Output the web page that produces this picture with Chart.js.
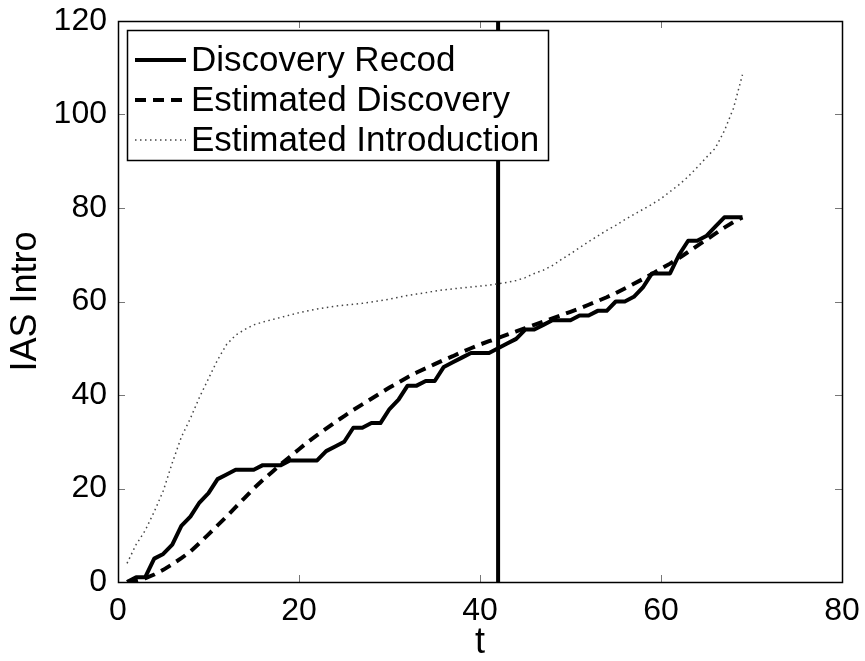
<!DOCTYPE html>
<html>
<head>
<meta charset="utf-8">
<script src="https://cdn.jsdelivr.net/npm/chart.js@4.4.0/dist/chart.umd.min.js"></script>
<style>
html,body{margin:0;padding:0;background:#fff;}
#c{display:block;}
</style>
</head>
<body>
<canvas id="c" width="865" height="661"></canvas>
<script>
// ---- data ----
const tValues = [1,2,3,4,5,6,7,8,9,10,11,12,13,14,15,16,17,18,19,20,21,22,23,24,25,26,27,28,29,30,31,32,33,34,35,36,37,38,39,40,41,42,43,44,45,46,47,48,49,50,51,52,53,54,55,56,57,58,59,60,61,62,63,64,65,66,67,68,69];

const discoveryRecord = [0,1,1,5,6,8,12,14,17,19,22,23,24,24,24,25,25,25,26,26,26,26,28,29,30,33,33,34,34,37,39,42,42,43,43,46,47,48,49,49,49,50,51,52,54,54,55,56,56,56,57,57,58,58,60,60,61,63,66,66,66,70,73,73,74,76,78,78,78];

const estimatedDiscovery = [0,0.3,0.8,1.6,2.6,3.8,5.1,6.5,8.3,10.2,12.1,14,16,18,20,21.8,23.5,25.2,26.8,28.4,30,31.4,32.8,34.2,35.5,36.8,38,39.2,40.4,41.6,42.7,43.8,44.8,45.7,46.6,47.5,48.3,49.2,50,50.8,51.5,52.2,52.9,53.6,54.3,55,55.7,56.4,57.1,57.8,58.5,59.3,60.1,60.9,61.8,62.8,63.8,64.8,65.9,67,68.1,69.3,70.6,71.9,73.2,74.5,75.8,77,78];

const estimatedIntroduction = [4,8,11,15,19.5,25.5,31,35,39.5,43.5,47.5,50.8,52.8,54,55,55.6,56.1,56.6,57.1,57.6,58,58.4,58.7,59,59.2,59.4,59.6,59.9,60.2,60.5,60.9,61.3,61.6,61.9,62.2,62.5,62.7,62.9,63.1,63.3,63.5,63.8,64.1,64.5,65.1,66,66.7,67.7,69,70.2,71.5,72.8,74,75.2,76.3,77.5,78.6,79.7,80.8,82,83.5,85,86.7,88.7,90.8,92.8,96.5,101.3,108.5];

const markerT = [42, 42];
const markerY = [0, 120];

const seriesLabels = ['Discovery Recod', 'Estimated Discovery', 'Estimated Introduction'];
const xTicks = [0, 20, 40, 60, 80];
const yTicks = [0, 20, 40, 60, 80, 100, 120];

const toPts = (xs, ys) => xs.map((x, i) => ({x: x, y: ys[i]}));

const FONT = "'Liberation Sans', Arial, Helvetica, sans-serif";

const framePlugin = {
  id: 'frame',
  afterDatasetsDraw(chart) {
    const {ctx, chartArea: a, scales: {x, y}} = chart;
    ctx.save();
    // inward tick marks
    ctx.strokeStyle = '#777';
    ctx.lineWidth = 1;
    const tl = 7;
    ctx.beginPath();
    xTicks.forEach(v => {
      if (v === x.min || v === x.max) return;
      const px = Math.round(x.getPixelForValue(v)) + 0.5;
      ctx.moveTo(px, a.bottom); ctx.lineTo(px, a.bottom - tl);
      ctx.moveTo(px, a.top); ctx.lineTo(px, a.top + tl);
    });
    yTicks.forEach(v => {
      if (v === y.min || v === y.max) return;
      const py = Math.round(y.getPixelForValue(v)) + 0.5;
      ctx.moveTo(a.left, py); ctx.lineTo(a.left + tl, py);
      ctx.moveTo(a.right, py); ctx.lineTo(a.right - tl, py);
    });
    ctx.stroke();
    // frame
    ctx.strokeStyle = '#000';
    ctx.lineWidth = 1.5;
    ctx.strokeRect(Math.round(a.left) + 0.5, Math.round(a.top) + 0.5, Math.round(a.right - a.left), Math.round(a.bottom - a.top));

    // legend box
    const lx = 127, ly = 30, lw = 421, lh = 130;
    ctx.fillStyle = '#fff';
    ctx.fillRect(lx, ly, lw, lh);
    ctx.strokeStyle = '#000';
    ctx.lineWidth = 1.5;
    ctx.strokeRect(lx + 0.5, ly + 0.5, lw, lh);
    const rows = [60, 100, 140];
    chart.data.datasets.forEach((ds, i) => {
      if (i >= seriesLabels.length) return;
      const ry = rows[i];
      ctx.save();
      ctx.strokeStyle = ds.borderColor;
      ctx.lineWidth = ds.borderWidth;
      ctx.setLineDash(ds.borderDash || []);
      ctx.beginPath();
      ctx.moveTo(135, ry); ctx.lineTo(186, ry);
      ctx.stroke();
      ctx.restore();
      ctx.fillStyle = '#000';
      ctx.font = '35px ' + FONT;
      ctx.textBaseline = 'middle';
      ctx.textAlign = 'left';
      ctx.fillText(ds.label, 191, ry + 1);
    });
    ctx.restore();
  }
};

new Chart(document.getElementById('c'), {
  type: 'line',
  data: {
    datasets: [
      {label: seriesLabels[0], data: toPts(tValues, discoveryRecord), borderColor: '#000', borderWidth: 4, pointRadius: 0, tension: 0, borderJoinStyle: 'round'},
      {label: seriesLabels[1], data: toPts(tValues, estimatedDiscovery), borderColor: '#000', borderWidth: 4, borderDash: [11, 7], pointRadius: 0, tension: 0},
      {label: seriesLabels[2], data: toPts(tValues, estimatedIntroduction), borderColor: '#444', borderWidth: 1.5, borderDash: [1.5, 3.5], pointRadius: 0, tension: 0},
      {label: 'marker', data: toPts(markerT, markerY), borderColor: '#000', borderWidth: 4, pointRadius: 0}
    ]
  },
  options: {
    responsive: false,
    animation: false,
    devicePixelRatio: 1,
    layout: {padding: {top: 21, right: 23, left: 0, bottom: 0}, autoPadding: false},
    plugins: {legend: {display: false}, tooltip: {enabled: false}},
    scales: {
      x: {
        type: 'linear', min: 0, max: 80,
        afterBuildTicks: s => { s.ticks = xTicks.map(v => ({value: v})); },
        afterFit: s => { s.height = 79; s.paddingLeft = 0; s.paddingRight = 0; s.paddingTop = 0; s.paddingBottom = 0; },
        grid: {display: false, drawTicks: false, drawOnChartArea: false},
        border: {display: false},
        ticks: {color: '#000', font: {family: FONT, size: 32}, padding: 10, maxRotation: 0, autoSkip: false},
        title: {display: true, text: 't', color: '#000', font: {family: FONT, size: 36, lineHeight: 1.0}, padding: {top: 0, bottom: 0}}
      },
      y: {
        type: 'linear', min: 0, max: 120,
        afterBuildTicks: s => { s.ticks = yTicks.map(v => ({value: v})); },
        afterFit: s => { s.width = 118; s.paddingLeft = 0; s.paddingRight = 0; s.paddingTop = 0; s.paddingBottom = 0; },
        grid: {display: false, drawTicks: false, drawOnChartArea: false},
        border: {display: false},
        ticks: {color: '#000', font: {family: FONT, size: 32}, padding: 11, autoSkip: false},
        title: {display: true, text: 'IAS Intro', color: '#000', font: {family: FONT, size: 36}, padding: {top: 4, bottom: 0}}
      }
    }
  },
  plugins: [framePlugin]
});
</script>
</body>
</html>
